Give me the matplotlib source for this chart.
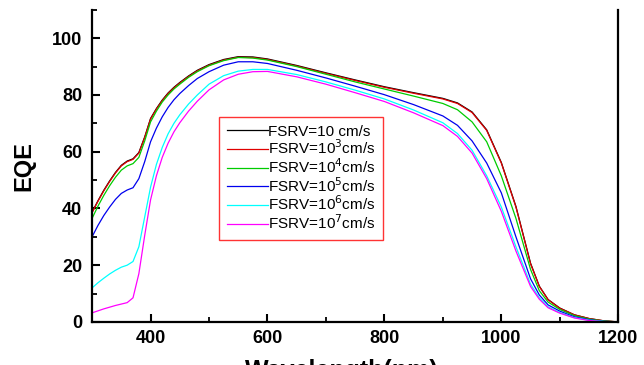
import numpy as np
import matplotlib.pyplot as plt
from matplotlib.ticker import MultipleLocator

plt.rcParams['font.family'] = ['Liberation Sans', 'DejaVu Sans']

# wavelength grid (nm) and EQE (%)
wavelength = [300, 310, 320, 330, 340, 350, 360, 370, 380, 390, 400, 410, 420, 430,
              440, 450, 465, 480, 500, 525, 550, 575, 600, 650, 700, 750, 800, 850,
              900, 925, 950, 975, 1000, 1025, 1050, 1065, 1080, 1100, 1125, 1150,
              1175, 1200]

eqe_1e1 = [38.7, 42.7, 46.4, 49.7, 52.7, 55.2, 56.7, 57.5, 59.7, 65.2, 71.7, 75.2,
           78.2, 80.7, 82.7, 84.4, 86.7, 88.7, 90.7, 92.5, 93.5, 93.4, 92.7, 90.4,
           87.8, 85.3, 82.9, 80.8, 78.8, 77.2, 74.0, 67.7, 56.2, 40.7, 20.7, 12.6,
           7.9, 4.9, 2.5, 1.2, 0.4, 0.0]
eqe_1e3 = [38.5, 42.5, 46.2, 49.5, 52.5, 55.0, 56.5, 57.3, 59.5, 65.0, 71.5, 75.0,
           78.0, 80.5, 82.5, 84.2, 86.5, 88.5, 90.5, 92.3, 93.3, 93.2, 92.5, 90.2,
           87.6, 85.1, 82.7, 80.6, 78.6, 77.0, 73.8, 67.5, 56.0, 40.5, 20.5, 12.5,
           7.8, 4.8, 2.5, 1.2, 0.4, 0.0]
eqe_1e4 = [36.5, 40.8, 44.6, 48.0, 51.0, 53.5, 55.0, 55.8, 58.0, 63.8, 70.5, 74.3,
           77.5, 80.0, 82.1, 83.8, 86.2, 88.2, 90.3, 92.1, 93.2, 93.0, 92.3, 90.0,
           87.3, 84.6, 82.1, 79.6, 77.0, 74.8, 70.5, 63.5, 51.5, 36.5, 18.5, 11.0,
           7.0, 4.4, 2.2, 1.0, 0.3, 0.0]
eqe_1e5 = [30.0, 34.0, 37.5, 40.5, 43.2, 45.3, 46.5, 47.3, 50.5, 56.5, 63.5, 68.3,
           72.3, 75.6, 78.3, 80.5, 83.3, 85.8, 88.2, 90.5, 91.7, 91.7, 91.1, 88.7,
           86.0, 83.1, 80.1, 76.6, 72.6, 69.3, 63.8, 56.0, 45.5, 30.0, 15.2, 9.5,
           6.0, 3.8, 1.8, 0.8, 0.2, 0.0]
eqe_1e6 = [12.0, 13.8, 15.4, 16.9, 18.2, 19.3, 20.0, 21.3, 26.5, 37.0, 47.5, 55.5,
           61.5, 66.3, 70.0, 73.0, 76.8, 80.0, 83.8, 86.8, 88.4, 89.0, 89.0, 87.2,
           84.6, 81.7, 78.6, 74.7, 70.2, 66.4, 60.5, 51.5, 40.5, 26.5, 13.3, 8.5,
           5.3, 3.3, 1.5, 0.6, 0.2, 0.0]
eqe_1e7 = [3.2, 3.9, 4.6, 5.2, 5.8, 6.3, 6.8, 8.5, 17.0, 30.5, 43.0, 51.5,
           58.0, 63.0, 67.0, 70.2, 74.3, 77.8, 81.8, 85.3, 87.3, 88.2, 88.3, 86.4,
           83.8, 80.8, 77.7, 73.7, 69.2, 65.4, 59.5, 50.5, 39.0, 25.0, 12.5, 8.0,
           5.0, 3.1, 1.4, 0.5, 0.1, 0.0]

series = [eqe_1e1, eqe_1e3, eqe_1e4, eqe_1e5, eqe_1e6, eqe_1e7]
labels = ['FSRV=10 cm/s', 'FSRV=10$^3$cm/s', 'FSRV=10$^4$cm/s',
          'FSRV=10$^5$cm/s', 'FSRV=10$^6$cm/s', 'FSRV=10$^7$cm/s']
colors = ['black', '#e00000', '#00cc00', '#0000ee', '#00ffff', '#ff00ff']

fig = plt.figure(figsize=(6.44, 3.65), dpi=100)
ax = fig.add_axes([0.143, 0.118, 0.817, 0.855])

for y, lab, c in zip(series, labels, colors):
    ax.plot(wavelength, y, color=c, linewidth=0.9, label=lab)

ax.set_xlim(300, 1200)
ax.set_ylim(0, 110)
ax.xaxis.set_minor_locator(MultipleLocator(100))
ax.yaxis.set_minor_locator(MultipleLocator(10))
ax.set_xticks([400, 600, 800, 1000, 1200])
ax.set_yticks([0, 20, 40, 60, 80, 100])

ax.spines['top'].set_visible(False)
for s in ['left', 'bottom', 'right']:
    ax.spines[s].set_linewidth(1.6)

ax.tick_params(which='major', direction='in', length=6, width=1.5,
               labelsize=13, pad=6)
ax.tick_params(axis='y', which='major', pad=7)
ax.tick_params(which='minor', direction='in', length=3.5, width=1.3)
for t in ax.get_xticklabels() + ax.get_yticklabels():
    t.set_fontweight('bold')

ax.set_ylabel('EQE', fontsize=17, fontweight='bold')
ax.yaxis.set_label_coords(-0.107, 0.5)
ax.set_xlabel('Wavelength(nm)', fontsize=18, fontweight='bold', va='top')
ax.xaxis.set_label_coords(0.475, -0.118)

leg = ax.legend(loc='upper left', bbox_to_anchor=(0.241, 0.657), fontsize=11,
                frameon=True, fancybox=False, edgecolor='red',
                handlelength=2.7, handletextpad=0.0, labelspacing=0.0,
                borderpad=0.5, borderaxespad=0)
leg.get_frame().set_linewidth(1.0)

fig.savefig('out.png', dpi=100)
